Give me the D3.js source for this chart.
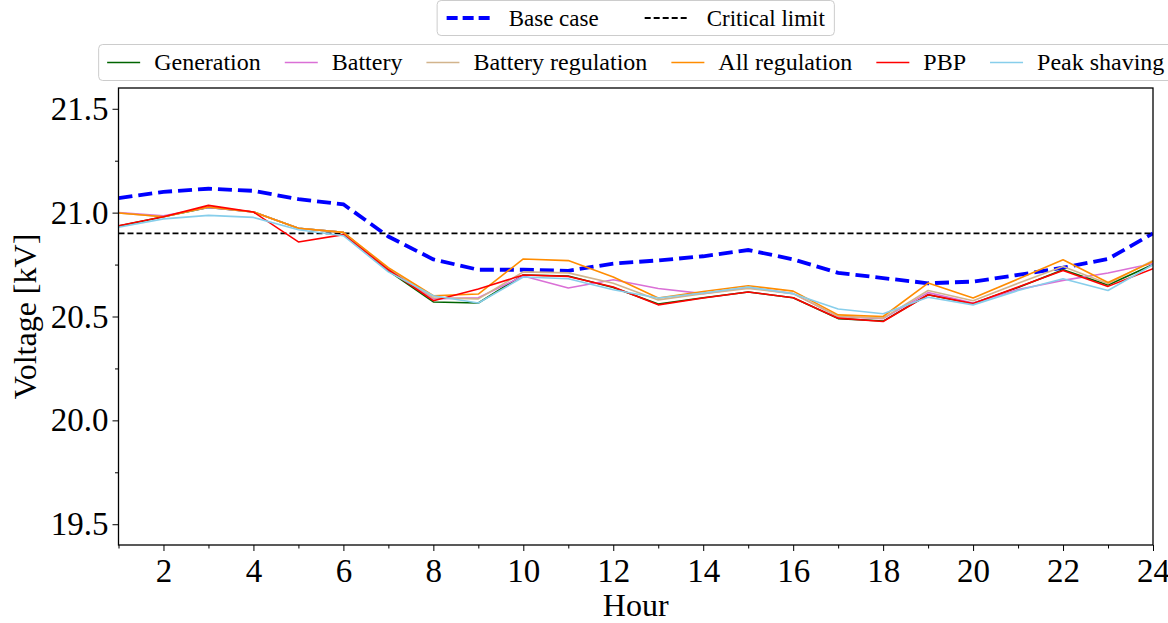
<!DOCTYPE html>
<html>
<head>
<meta charset="utf-8">
<script src="https://cdn.jsdelivr.net/npm/d3@7"></script>
<style>
  html, body { margin: 0; padding: 0; background: #fff; }
  svg { display: block; }
  text { font-family: "Liberation Serif", "Times New Roman", serif; fill: #000; }
</style>
</head>
<body>
<svg id="chart" width="1168" height="623"></svg>
<script>
// ---------------- data ----------------
const hours = [1,2,3,4,5,6,7,8,9,10,11,12,13,14,15,16,17,18,19,20,21,22,23,24];

const baseCase      = [21.07, 21.10, 21.115, 21.105, 21.065, 21.04, 20.885, 20.775, 20.725, 20.725, 20.72, 20.755, 20.77, 20.79, 20.82, 20.775, 20.71, 20.685, 20.66, 20.668, 20.70, 20.735, 20.777, 20.90];
const criticalLimit = 20.9;

const generation    = [20.935, 20.98, 21.025, 21.003, 20.925, 20.905, 20.72, 20.57, 20.565, 20.70, 20.695, 20.64, 20.56, 20.59, 20.618, 20.59, 20.49, 20.478, 20.605, 20.562, 20.64, 20.725, 20.652, 20.75];
const battery       = [21.0, 20.985, 21.025, 21.003, 20.925, 20.905, 20.725, 20.585, 20.59, 20.695, 20.637, 20.677, 20.635, 20.61, 20.64, 20.61, 20.5, 20.49, 20.615, 20.565, 20.63, 20.674, 20.709, 20.755];
const batteryReg    = [20.998, 20.98, 21.027, 21.003, 20.925, 20.905, 20.73, 20.59, 20.585, 20.715, 20.71, 20.66, 20.58, 20.61, 20.635, 20.61, 20.5, 20.492, 20.625, 20.576, 20.66, 20.741, 20.658, 20.77];
const allReg        = [20.998, 20.98, 21.027, 21.003, 20.925, 20.905, 20.735, 20.6, 20.608, 20.777, 20.769, 20.69, 20.589, 20.62, 20.648, 20.622, 20.508, 20.5, 20.661, 20.589, 20.68, 20.773, 20.664, 20.765];
const pbp           = [20.937, 20.98, 21.035, 21.003, 20.859, 20.894, 20.725, 20.576, 20.632, 20.7, 20.693, 20.642, 20.556, 20.589, 20.618, 20.59, 20.492, 20.476, 20.605, 20.562, 20.642, 20.722, 20.645, 20.73];
const peakShaving   = [20.93, 20.97, 20.987, 20.977, 20.918, 20.889, 20.715, 20.6, 20.565, 20.69, 20.682, 20.629, 20.589, 20.613, 20.642, 20.61, 20.536, 20.513, 20.593, 20.556, 20.625, 20.682, 20.625, 20.749];

const seriesNames  = ["Generation", "Battery", "Battery regulation", "All regulation", "PBP", "Peak shaving"];
const seriesValues = [generation, battery, batteryReg, allReg, pbp, peakShaving];
const seriesColors = ["#006400", "#da70d6", "#d2b48c", "#ff8c00", "#ff0000", "#87ceeb"];

const refNames = ["Base case", "Critical limit"];

const xTicks = [2,4,6,8,10,12,14,16,18,20,22,24];
const xMinorTicks = [1,3,5,7,9,11,13,15,17,19,21,23];
const yTicks = [19.5, 20.0, 20.5, 21.0, 21.5];
const yMinorTicks = [19.75, 20.25, 20.75, 21.25];
const xDomain = [1, 24];
const yDomain = [19.4, 21.6];

// ---------------- layout ----------------
const svg = d3.select("#chart");
const plot = { left: 118.5, right: 1153, top: 88, bottom: 545 };

const x = d3.scaleLinear().domain(xDomain).range([plot.left, plot.right]);
const y = d3.scaleLinear().domain(yDomain).range([plot.bottom, plot.top]);

svg.append("defs").append("clipPath").attr("id", "clip")
  .append("rect").attr("x", plot.left).attr("y", plot.top)
  .attr("width", plot.right - plot.left).attr("height", plot.bottom - plot.top);

const g = svg.append("g").attr("clip-path", "url(#clip)");
const line = d3.line().x((d, i) => x(hours[i])).y(d => y(d));

// base case
g.append("path").datum(baseCase)
  .attr("d", line).attr("fill", "none").attr("stroke", "#0000ff")
  .attr("stroke-width", 3.8).attr("stroke-dasharray", "14,6");

// critical limit
g.append("line")
  .attr("x1", plot.left).attr("x2", plot.right)
  .attr("y1", y(criticalLimit)).attr("y2", y(criticalLimit))
  .attr("stroke", "#000").attr("stroke-width", 1.9).attr("stroke-dasharray", "6,3");

// scenario lines
seriesValues.forEach((vals, k) => {
  g.append("path").datum(vals)
    .attr("d", line).attr("fill", "none")
    .attr("stroke", seriesColors[k]).attr("stroke-width", 1.6)
    .attr("stroke-linejoin", "round");
});

// ---------------- axes ----------------
const xAxis = d3.axisBottom(x).tickValues(xTicks).tickFormat(d3.format("d"))
  .tickSize(6).tickPadding(8);
const xMinor = d3.axisBottom(x).tickValues(xMinorTicks).tickFormat("").tickSize(3.5);
const yAxis = d3.axisLeft(y).tickValues(yTicks).tickFormat(d3.format(".1f"))
  .tickSize(6).tickPadding(4);
const yMinor = d3.axisLeft(y).tickValues(yMinorTicks).tickFormat("").tickSize(3.5);

function styleAxis(sel) {
  sel.select(".domain").remove();
  sel.selectAll("line").attr("stroke", "#000").attr("stroke-width", 1);
  sel.selectAll("text").attr("font-family", "Liberation Serif, serif")
    .attr("font-size", 33).attr("fill", "#000");
}

svg.append("g").attr("transform", `translate(0,${plot.bottom})`).call(xAxis).call(styleAxis);
svg.append("g").attr("transform", `translate(0,${plot.bottom})`).call(xMinor).call(styleAxis);
svg.append("g").attr("transform", `translate(${plot.left},0)`).call(yAxis).call(styleAxis);
svg.append("g").attr("transform", `translate(${plot.left},0)`).call(yMinor).call(styleAxis);

// frame
svg.append("rect")
  .attr("x", plot.left).attr("y", plot.top)
  .attr("width", plot.right - plot.left).attr("height", plot.bottom - plot.top)
  .attr("fill", "none").attr("stroke", "#000").attr("stroke-width", 1.3);

// axis labels
svg.append("text").attr("x", (plot.left + plot.right) / 2).attr("y", 616)
  .attr("text-anchor", "middle").attr("font-size", 32).text("Hour");
svg.append("text")
  .attr("transform", `translate(36,${(plot.top + plot.bottom) / 2}) rotate(-90)`)
  .attr("text-anchor", "middle").attr("font-size", 32).text("Voltage [kV]");

// ---------------- legends ----------------
function legend(items, opts) {
  const lg = svg.append("g");
  const box = lg.append("rect");
  let cx = 0;
  items.forEach((it, i) => {
    const hg = lg.append("g");
    hg.append("line").attr("x1", cx).attr("x2", cx + opts.handle)
      .attr("y1", 0).attr("y2", 0)
      .attr("stroke", it.color).attr("stroke-width", it.width)
      .attr("stroke-dasharray", it.dash || null);
    const t = hg.append("text").attr("x", cx + opts.handle + opts.pad).attr("y", 0)
      .attr("dy", "0.33em").attr("font-size", opts.font).text(it.name);
    const w = t.node().getComputedTextLength();
    cx += opts.handle + opts.pad + w + (i < items.length - 1 ? opts.spacing : 0);
  });
  const bw = cx + 2 * opts.border;
  const x0 = opts.center - bw / 2;
  lg.attr("transform", `translate(${x0 + opts.border},${opts.cy})`);
  box.attr("x", -opts.border).attr("y", -opts.h / 2).attr("width", bw).attr("height", opts.h)
    .attr("rx", 4).attr("fill", "#fff").attr("fill-opacity", 0.8)
    .attr("stroke", "#cccccc").attr("stroke-width", 1);
}

const axCenter = (plot.left + plot.right) / 2;
legend([
  { name: refNames[0], color: "#0000ff", width: 3.8, dash: "11,5" },
  { name: refNames[1], color: "#000", width: 1.9, dash: "6,3" }
], { handle: 44, pad: 18, spacing: 46, font: 23, border: 9.5, h: 35, cy: 18, center: axCenter });

legend(seriesNames.map((n, k) => ({ name: n, color: seriesColors[k], width: 1.6 })),
  { handle: 33, pad: 14, spacing: 24, font: 24, border: 8.5, h: 36, cy: 62.5, center: axCenter });
</script>
</body>
</html>
